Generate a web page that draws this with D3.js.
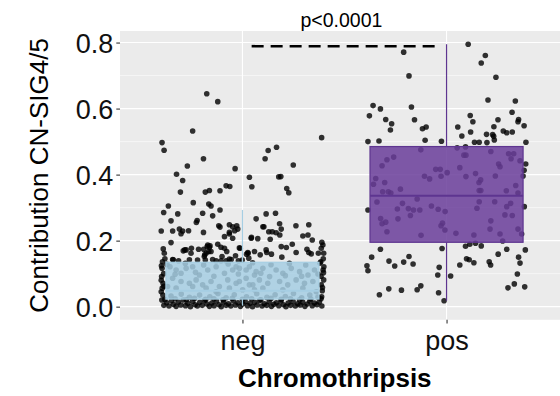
<!DOCTYPE html>
<html><head><meta charset="utf-8">
<script src="https://cdn.jsdelivr.net/npm/d3@7"></script>
<style>body{margin:0;background:#fff}svg{display:block}text{font-family:"Liberation Sans",Arial,Helvetica,sans-serif}</style>
</head><body><svg id="c" width="560" height="396"></svg>
<script>
// ---------------- data ----------------
const categories = ["neg", "pos"];
const yTicks = [0, 0.2, 0.4, 0.6, 0.8];
const yMinorTicks = [0.1, 0.3, 0.5, 0.7];
const xTitle = "Chromothripsis";
const yTitle = "Contribution CN-SIG4/5";
const pLabel = "p<0.0001";
const compareY = 0.789;          // dashed comparison line value
const compareFrom = 1.045;       // category position
const compareTo = 1.975;
const pLabelPos = 1.485;
const pLabelY = 0.848;

// box statistics per category
const boxQ1 = [0.023, 0.195];
const boxMedian = [0.048, 0.336];
const boxQ3 = [0.1345, 0.485];
const whiskerLow = [0.003, 0.018];
const whiskerHigh = [0.293, 0.795];
const boxFill = ["#a6cee3", "#6a3d9a"];
const boxStroke = ["#a6cee3", "#5e3590"];

// jittered points: [jitter offset (band units), value]
const negPoints = [
[-0.175,0.645],[-0.121,0.621],[-0.244,0.532],[0.388,0.512],[-0.394,0.497],[-0.384,0.474],[0.111,0.448],[0.126,0.473],[0.167,0.483],[-0.191,0.448],[-0.270,0.426],[0.249,0.429],[-0.323,0.401],[-0.293,0.382],[-0.304,0.347],[-0.182,0.347],[-0.162,0.352],[-0.110,0.351],[-0.080,0.366],[-0.062,0.364],[-0.036,0.418],[0.034,0.392],[0.046,0.363],[0.178,0.393],[0.188,0.394],[0.217,0.358],[0.227,0.345],
[-0.363,0.305],[-0.386,0.285],[-0.350,0.260],[-0.317,0.281],[-0.398,0.229],[-0.342,0.229],[-0.309,0.235],[-0.293,0.229],[-0.301,0.221],[-0.264,0.230],[-0.241,0.315],[-0.222,0.261],[-0.226,0.255],[-0.195,0.283],[-0.165,0.311],[-0.154,0.305],[-0.110,0.293],[-0.146,0.275],[-0.116,0.245],[-0.110,0.241],[-0.064,0.248],[-0.048,0.242],[-0.028,0.245],[-0.023,0.235],[-0.064,0.225],[-0.038,0.230],[-0.191,0.225],[-0.350,0.194],[-0.388,0.175],[-0.383,0.162],[-0.380,0.145],[-0.394,0.116],[-0.283,0.172],[-0.290,0.169],[-0.250,0.177],[-0.215,0.174],[-0.190,0.174],[-0.173,0.182],[-0.159,0.184],[-0.165,0.167],[-0.185,0.157],[-0.121,0.189],[-0.105,0.180],[-0.339,0.142],[-0.129,0.139],[-0.080,0.139],[-0.015,0.178],[-0.020,0.139],[0.020,0.159],[0.067,0.266],[0.044,0.210],[0.075,0.206],[0.100,0.242],[0.129,0.227],[0.116,0.281],[0.116,0.172],[0.142,0.159],[0.136,0.204],[0.182,0.251],[0.162,0.283],
[0.105,0.242],[0.146,0.227],[0.165,0.224],[0.190,0.235],[0.183,0.217],[0.262,0.245],[0.325,0.248],[0.296,0.214],[0.321,0.217],[0.342,0.202],[0.389,0.195],[0.394,0.187],[0.043,0.207],[0.026,0.164],[0.087,0.157],[0.119,0.164],[0.190,0.182],[0.215,0.179],[0.244,0.189],[0.263,0.164],[0.316,0.174],[0.325,0.164],[0.337,0.160],[0.372,0.162],[0.386,0.177],[0.193,0.150],[0.398,0.162],[0.399,0.121],[0.395,0.111],[0.398,0.081],[0.386,0.066],[0.391,0.048],[0.388,0.030],
[-0.088,0.212],[-0.064,0.220],[-0.048,0.207],[-0.276,0.172],[-0.252,0.162],[-0.170,0.187],[-0.162,0.180],[-0.154,0.167],[-0.178,0.162],[-0.187,0.152],[-0.088,0.177],[-0.077,0.167],[-0.100,0.152],[-0.064,0.144],[-0.034,0.154],[-0.011,0.177],[0.028,0.162],[0.059,0.167],[-0.392,0.136],[-0.396,0.091],[-0.389,0.071],[-0.393,0.056],[-0.390,0.035],[-0.395,0.020],[-0.342,0.143],[-0.313,0.139],[-0.260,0.142],[-0.220,0.141],[-0.182,0.141],[-0.146,0.143],[-0.105,0.139],[-0.055,0.143],[-0.001,0.141],[0.031,0.147],
[-0.355,0.121],[-0.325,0.111],[-0.301,0.101],[-0.276,0.116],[-0.244,0.121],[-0.211,0.096],[-0.170,0.111],[-0.129,0.121],[-0.088,0.101],[-0.048,0.111],[-0.015,0.116],[0.034,0.121],[0.067,0.106],[-0.342,0.086],[-0.301,0.076],[-0.260,0.071],[-0.227,0.081],[-0.195,0.066],[-0.154,0.076],[-0.113,0.061],[-0.072,0.081],[-0.031,0.071],[0.018,0.086],[0.051,0.066],[-0.367,0.061],[-0.325,0.056],[-0.244,0.061],[-0.178,0.056],[-0.129,0.045],[-0.064,0.056],[0.001,0.051],[0.059,0.051],
[-0.031,0.121],[0.018,0.111],[0.059,0.096],[0.100,0.116],[0.133,0.091],[0.165,0.111],[0.198,0.101],[0.239,0.116],[0.280,0.106],[0.321,0.096],[0.353,0.111],[-0.015,0.076],[0.034,0.066],[0.083,0.081],[0.124,0.071],[0.182,0.076],[0.222,0.066],[0.263,0.081],[0.304,0.071],[0.345,0.076],[0.100,0.056],[0.198,0.051],[0.296,0.056],[0.362,0.045],
[-0.35,0.032],[-0.30,0.038],[-0.26,0.028],[-0.21,0.035],[-0.16,0.030],[-0.12,0.040],[-0.08,0.027],[-0.04,0.036],[0.02,0.030],[0.07,0.039],[0.12,0.028],[0.16,0.036],[0.21,0.031],[0.25,0.040],[0.29,0.027],[0.33,0.035],[0.37,0.029],
[-0.37,0.128],[-0.28,0.131],[-0.19,0.126],[-0.07,0.129],[0.05,0.133],[0.14,0.127],[0.23,0.131],[0.31,0.126],[0.38,0.132],
[-0.33,0.098],[-0.23,0.104],[-0.14,0.092],[-0.02,0.099],[0.09,0.101],[0.21,0.094],[0.29,0.092],[0.37,0.099],
[-0.385,0.004],[-0.372,0.012],[-0.360,0.002],[-0.348,0.018],[-0.338,0.007],[-0.325,0.001],[-0.314,0.014],[-0.302,0.005],[-0.290,0.020],[-0.279,0.003],[-0.268,0.010],[-0.255,0.000],[-0.244,0.016],[-0.232,0.006],[-0.221,0.002],[-0.209,0.013],[-0.197,0.004],[-0.186,0.019],[-0.174,0.008],[-0.162,0.001],[-0.150,0.011],[-0.139,0.003],[-0.127,0.017],[-0.115,0.006],[-0.104,0.000],[-0.092,0.014],[-0.080,0.004],[-0.069,0.009],[-0.057,0.002],[-0.045,0.018],[-0.034,0.005],[-0.022,0.012],[-0.010,0.001],[0.002,0.008],[0.013,0.016],[0.025,0.003],[0.037,0.010],[0.049,0.000],[0.060,0.013],[0.072,0.005],[0.084,0.019],[0.096,0.002],[0.107,0.009],[0.119,0.004],[0.131,0.015],[0.142,0.001],[0.154,0.007],[0.166,0.012],[0.178,0.003],[0.189,0.018],[0.201,0.006],[0.213,0.000],[0.224,0.011],[0.236,0.004],[0.248,0.016],[0.259,0.002],[0.271,0.009],[0.283,0.005],[0.295,0.014],[0.306,0.001],[0.318,0.008],[0.330,0.017],[0.342,0.003],[0.353,0.011],[0.365,0.006],[0.377,0.014],[0.389,0.002],
[-0.380,0.022],[-0.330,0.024],[-0.275,0.021],[-0.235,0.025],[-0.180,0.022],[-0.140,0.024],[-0.095,0.021],[-0.050,0.025],[0.000,0.022],[0.045,0.024],[0.090,0.021],[0.140,0.025],[0.190,0.022],[0.235,0.024],[0.280,0.021],[0.335,0.023],[0.385,0.024],
[-0.398,0.045],[-0.385,0.062],[-0.398,0.080],[-0.386,0.100],[-0.397,0.124],[0.392,0.058],[0.385,0.092],[0.397,0.103],[0.384,0.136],[0.396,0.145]
];

const posPoints = [
[-0.210,0.771],[0.106,0.795],[0.190,0.761],[0.170,0.738],[-0.184,0.699],[0.242,0.695],[0.203,0.626],[0.337,0.623],[-0.360,0.609],[-0.324,0.599],[-0.172,0.605],[-0.378,0.578],[-0.298,0.567],[-0.269,0.554],[-0.275,0.535],[-0.157,0.566],[-0.118,0.539],[-0.100,0.544],[-0.105,0.504],[-0.025,0.501],[-0.385,0.500],[-0.331,0.502],[0.116,0.579],[0.055,0.544],[0.129,0.560],[0.075,0.517],[0.118,0.529],[0.232,0.545],[0.252,0.566],[0.321,0.589],[0.353,0.567],[0.350,0.560],[0.380,0.548],[0.278,0.532],[0.295,0.527],[0.322,0.529],[0.196,0.522],[0.226,0.521],[0.231,0.516],[0.137,0.498],[0.160,0.498],[0.198,0.497],[0.234,0.505],[0.389,0.498],[0.052,0.481],[0.093,0.484],
[-0.126,0.475],[0.085,0.459],[0.095,0.459],[0.217,0.470],[0.304,0.463],[0.329,0.463],[0.316,0.448],[0.360,0.442],[0.388,0.432],[-0.259,0.453],[-0.292,0.445],[-0.316,0.427],[-0.053,0.416],[-0.031,0.416],[0.003,0.406],[0.065,0.421],[0.255,0.432],[0.262,0.424],[0.380,0.413],[0.375,0.396],[-0.108,0.395],[-0.083,0.387],[-0.027,0.395],[0.142,0.403],[0.167,0.384],[0.159,0.376],[0.095,0.394],[0.239,0.396],[-0.347,0.388],[-0.358,0.371],[-0.303,0.376],[-0.226,0.356],[-0.313,0.348],[-0.285,0.348],[-0.273,0.344],[0.160,0.352],[0.168,0.352],[0.293,0.351],[0.339,0.367],[0.350,0.344],[-0.144,0.326],
[-0.341,0.317],[-0.385,0.293],[-0.323,0.267],[-0.316,0.251],[-0.298,0.256],[-0.292,0.227],[-0.241,0.296],[-0.216,0.313],[-0.187,0.297],[-0.162,0.293],[-0.131,0.293],[-0.177,0.276],[-0.238,0.266],[-0.074,0.305],[-0.041,0.295],[-0.007,0.288],[-0.020,0.253],[-0.027,0.245],[-0.008,0.232],[0.046,0.222],[-0.125,0.216],[0.149,0.298],[0.160,0.318],[0.295,0.303],[0.314,0.313],[0.286,0.278],[0.322,0.276],[0.217,0.260],[0.236,0.318],[0.213,0.235],[0.262,0.220],[0.134,0.217],[0.350,0.235],[0.368,0.220],[0.381,0.303],
[0.275,0.199],[-0.324,0.174],[-0.367,0.150],[-0.390,0.124],[-0.385,0.109],[-0.282,0.138],[-0.254,0.123],[-0.210,0.135],[-0.184,0.152],[-0.164,0.129],[-0.022,0.176],[-0.036,0.119],[-0.043,0.096],[0.020,0.093],[0.065,0.126],[0.098,0.145],[0.111,0.142],[0.134,0.133],[0.093,0.183],[0.114,0.189],[0.142,0.192],[0.170,0.184],[0.209,0.136],[0.216,0.126],[0.253,0.159],[0.295,0.174],[0.353,0.150],[0.386,0.172],[0.360,0.132],[0.347,0.099],[0.301,0.057],[0.332,0.069],[0.383,0.060],[-0.329,0.036],[-0.283,0.054],[-0.221,0.050],[-0.144,0.051],[-0.126,0.063],[-0.039,0.042],[-0.012,0.018]
];

// ---------------- drawing ----------------
const svg = d3.select("#c");
const panel = {left: 120, top: 31, right: 569, bottom: 319.8};
const x = d3.scaleLinear().domain([0.4, 2.6]).range([panel.left, panel.right]);
const y = d3.scaleLinear().domain([-0.0398, 0.835]).range([panel.bottom, panel.top]);

svg.append("rect").attr("x", panel.left).attr("y", panel.top)
  .attr("width", panel.right - panel.left).attr("height", panel.bottom - panel.top)
  .attr("fill", "#ebebeb");

const grid = svg.append("g");
grid.selectAll(".minor").data(yMinorTicks).join("line")
  .attr("x1", panel.left).attr("x2", panel.right)
  .attr("y1", d => y(d)).attr("y2", d => y(d))
  .attr("stroke", "#fff").attr("stroke-width", 0.55);
grid.selectAll(".major").data(yTicks).join("line")
  .attr("x1", panel.left).attr("x2", panel.right)
  .attr("y1", d => y(d)).attr("y2", d => y(d))
  .attr("stroke", "#fff").attr("stroke-width", 1.1);
grid.selectAll(".vmajor").data(categories).join("line")
  .attr("x1", (d, i) => x(i + 1)).attr("x2", (d, i) => x(i + 1))
  .attr("y1", panel.top).attr("y2", panel.bottom)
  .attr("stroke", "#fff").attr("stroke-width", 1.1);

// points
const pts = svg.append("g");
[negPoints, posPoints].forEach((arr, i) => {
  pts.selectAll(null).data(arr).join("circle")
    .attr("cx", d => x(i + 1 + d[0]))
    .attr("cy", d => y(d[1]))
    .attr("r", 2.8)
    .attr("fill", "#000").attr("fill-opacity", 0.8);
});

// boxes
const boxes = svg.append("g");
categories.forEach((c, i) => {
  const cx = x(i + 1), hw = 0.375;
  boxes.append("line").attr("x1", cx).attr("x2", cx)
    .attr("y1", y(boxQ3[i])).attr("y2", y(whiskerHigh[i]))
    .attr("stroke", boxStroke[i]).attr("stroke-width", 1.2);
  boxes.append("line").attr("x1", cx).attr("x2", cx)
    .attr("y1", y(boxQ1[i])).attr("y2", y(whiskerLow[i]))
    .attr("stroke", boxStroke[i]).attr("stroke-width", 1.2);
  boxes.append("rect")
    .attr("x", x(i + 1 - hw)).attr("width", x(i + 1 + hw) - x(i + 1 - hw))
    .attr("y", y(boxQ3[i])).attr("height", y(boxQ1[i]) - y(boxQ3[i]))
    .attr("fill", boxFill[i]).attr("fill-opacity", 0.85)
    .attr("stroke", boxStroke[i]).attr("stroke-width", 1.2);
  boxes.append("line")
    .attr("x1", x(i + 1 - hw)).attr("x2", x(i + 1 + hw))
    .attr("y1", y(boxMedian[i])).attr("y2", y(boxMedian[i]))
    .attr("stroke", boxStroke[i]).attr("stroke-width", 2);
});

// comparison
svg.append("line")
  .attr("x1", x(compareFrom)).attr("x2", x(compareTo))
  .attr("y1", y(compareY)).attr("y2", y(compareY))
  .attr("stroke", "#000").attr("stroke-width", 2.6)
  .attr("stroke-dasharray", "12,7");
svg.append("text").attr("x", x(pLabelPos)).attr("y", y(pLabelY))
  .attr("text-anchor", "middle").attr("font-size", 19.5).attr("fill", "#000")
  .text(pLabel);

// axes
const yAxis = svg.append("g").attr("transform", `translate(${panel.left},0)`)
  .call(d3.axisLeft(y).tickValues(yTicks).tickFormat(d3.format(".1f")).tickSize(3.7).tickPadding(3));
const xAxis = svg.append("g").attr("transform", `translate(0,${panel.bottom})`)
  .call(d3.axisBottom(x).tickValues([1, 2]).tickFormat(d => categories[d - 1]).tickSize(3.7).tickPadding(7));
[yAxis, xAxis].forEach(a => {
  a.select(".domain").remove();
  a.selectAll(".tick line").attr("stroke", "#333").attr("stroke-width", 1.1);
  a.selectAll(".tick text").attr("fill", "#111").attr("font-size", 27)
    .attr("font-family", '"Liberation Sans",Arial,sans-serif');
});
yAxis.selectAll(".tick text").attr("dy", "0.36em");

svg.append("text").attr("x", 334.8).attr("y", 387)
  .attr("text-anchor", "middle").attr("font-size", 26).attr("font-weight", "bold").attr("fill", "#000")
  .text(xTitle);
svg.append("text").attr("transform", `translate(48,${(panel.top + panel.bottom) / 2}) rotate(-90)`)
  .attr("text-anchor", "middle").attr("font-size", 26).attr("fill", "#000")
  .text(yTitle);
</script></body></html>
